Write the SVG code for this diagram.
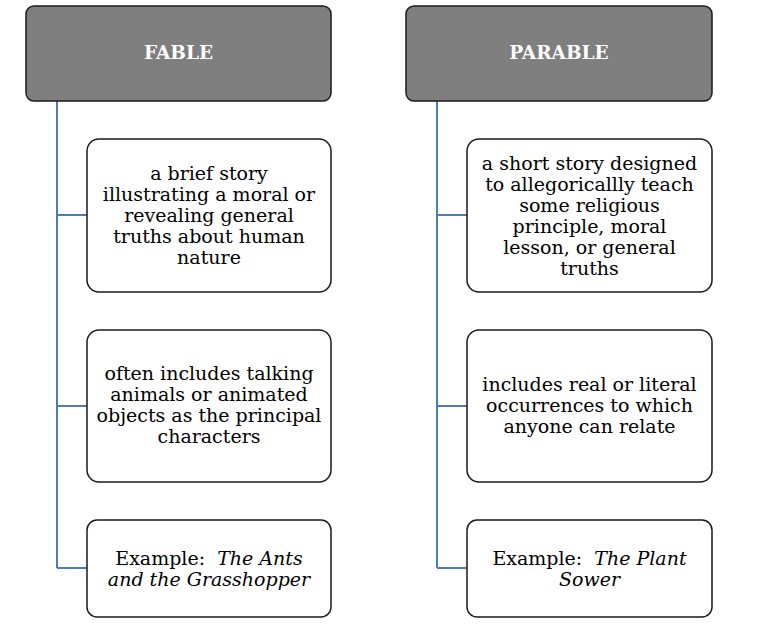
<svg xmlns="http://www.w3.org/2000/svg" width="762" height="631" viewBox="0 0 762 631">
  <style>
    .head { fill: #7f7f7f; stroke: #1a1a1a; stroke-width: 1.5; }
    .item { fill: #ffffff; stroke: #1a1a1a; stroke-width: 1.5; }
    .title { font-family: "DejaVu Serif", "Liberation Serif", serif; font-weight: bold; font-size: 18.5px; fill: #ffffff; text-anchor: middle; }
    .txt { font-family: "DejaVu Serif", "Liberation Serif", serif; font-size: 19px; fill: #000000; text-anchor: middle; }
    .it { font-style: italic; }
    .conn { fill: none; stroke: #4a7ebb; stroke-width: 2; }
  </style>
  <rect width="762" height="631" fill="#ffffff"/>

  <!-- connectors -->
  <g id="connectors">
    <path class="conn" d="M57 101 V568 M57 215 H87 M57 406 H87 M57 568 H87"/>
    <path class="conn" d="M437 101 V568 M437 215 H467 M437 406 H467 M437 568 H467"/>
  </g>

  <!-- left column -->
  <g id="fable">
    <rect class="head" x="26" y="6" width="305" height="95" rx="8"/>
    <text class="title" x="178.5" y="59">FABLE</text>
  </g>
  <g id="fable-def">
    <rect class="item" x="87" y="139" width="244" height="153" rx="12"/>
    <text class="txt" x="209" y="180">a brief story</text>
    <text class="txt" x="209" y="201">illustrating a moral or</text>
    <text class="txt" x="209" y="222">revealing general</text>
    <text class="txt" x="209" y="243">truths about human</text>
    <text class="txt" x="209" y="264">nature</text>
  </g>
  <g id="fable-chars">
    <rect class="item" x="87" y="330" width="244" height="152" rx="12"/>
    <text class="txt" x="209" y="380">often includes talking</text>
    <text class="txt" x="209" y="401">animals or animated</text>
    <text class="txt" x="209" y="422">objects as the principal</text>
    <text class="txt" x="209" y="443">characters</text>
  </g>
  <g id="fable-example">
    <rect class="item" x="87" y="520" width="244" height="97" rx="10"/>
    <text class="txt" x="209" y="565" xml:space="preserve">Example:  <tspan class="it">The Ants</tspan></text>
    <text class="txt it" x="209" y="586">and the Grasshopper</text>
  </g>

  <!-- right column -->
  <g id="parable">
    <rect class="head" x="406" y="6" width="306" height="95" rx="8"/>
    <text class="title" x="559" y="59">PARABLE</text>
  </g>
  <g id="parable-def">
    <rect class="item" x="467" y="139" width="245" height="153" rx="12"/>
    <text class="txt" x="589.5" y="170">a short story designed</text>
    <text class="txt" x="589.5" y="191">to allegoricallly teach</text>
    <text class="txt" x="589.5" y="212">some religious</text>
    <text class="txt" x="589.5" y="233">principle, moral</text>
    <text class="txt" x="589.5" y="254">lesson, or general</text>
    <text class="txt" x="589.5" y="275">truths</text>
  </g>
  <g id="parable-real">
    <rect class="item" x="467" y="330" width="245" height="152" rx="12"/>
    <text class="txt" x="589.5" y="391">includes real or literal</text>
    <text class="txt" x="589.5" y="412">occurrences to which</text>
    <text class="txt" x="589.5" y="433">anyone can relate</text>
  </g>
  <g id="parable-example">
    <rect class="item" x="467" y="520" width="245" height="97" rx="10"/>
    <text class="txt" x="589.5" y="565" xml:space="preserve">Example:  <tspan class="it">The Plant</tspan></text>
    <text class="txt it" x="589.5" y="586">Sower</text>
  </g>
</svg>
